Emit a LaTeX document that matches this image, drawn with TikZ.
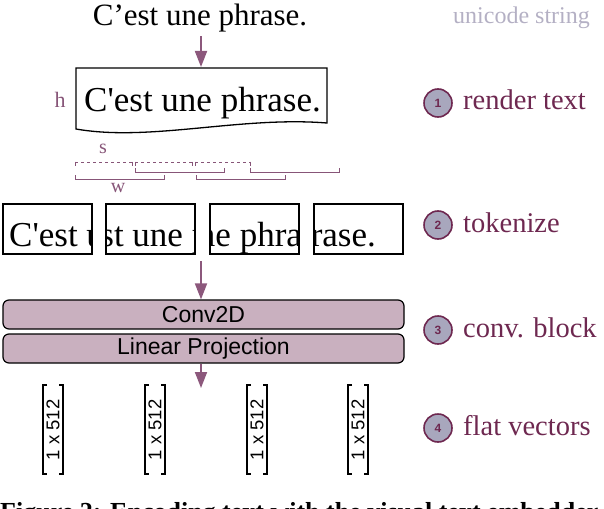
\documentclass[tikz,border=0pt]{standalone}
\usepackage{fontspec}
\setmainfont{Liberation Serif}
\setsansfont{Liberation Sans}
\usetikzlibrary{arrows.meta}
\definecolor{arrowc}{RGB}{140,88,124}
\definecolor{brkc}{RGB}{135,85,120}
\definecolor{labc}{RGB}{110,40,80}
\definecolor{circfill}{RGB}{168,167,189}
\definecolor{convfill}{RGB}{201,176,191}
\definecolor{greyt}{RGB}{180,176,196}
\begin{document}
\begin{tikzpicture}[x=1pt,y=-1pt,
  flow/.style={arrowc, line width=1.8pt, -{Triangle[width=12pt,length=16pt]}},
  brkline/.style={brkc, line width=0.9pt},
  tokfont/.style={font=\fontsize{35}{35}\selectfont},
  convbox/.style={draw, fill=convfill, rounded corners=6pt, line width=1.2pt, inner sep=0,
    minimum width=401pt, minimum height=29pt, font=\sffamily\fontsize{23}{23}\selectfont},
  stepcirc/.style={circle, draw=labc, fill=circfill, line width=1.6pt, minimum size=28pt,
    inner sep=0, text=labc, font=\sffamily\bfseries\fontsize{12}{12}\selectfont},
  steplabel/.style={anchor=base west, inner sep=0, text=labc, font=\fontsize{28.5}{28.5}\selectfont},
  vecfont/.style={rotate=90, inner sep=0, font=\sffamily\fontsize{18.5}{18.5}\selectfont}]
\useasboundingbox (0,0) rectangle (604,508);
\clip (0,0) rectangle (604,508);

% top unicode string
\node[anchor=base, font=\fontsize{31}{31}\selectfont] (top) at (200,26) {C’est une phrase.};
\node[anchor=base west, inner sep=0, text=greyt, font=\fontsize{24}{24}\selectfont] (uni) at (453,24) {unicode string};

% rendered text
\coordinate (rtop) at (201,67);
\draw[flow] (top.south -| rtop) -- (rtop);
\draw[line width=1.3pt] (76,68) -- (327,68) -- (327,123) .. controls (240,116) and (150,142) .. (76,129) -- cycle;
\node[anchor=base west, inner sep=0, tokfont] (rtext) at (84,111) {C\textquotesingle est une phrase.};
\node[text=brkc, font=\fontsize{22}{22}\selectfont] (h) at (60,100) {h};

% stride / window brackets
\foreach \a/\b in {75/132,135/192,195/250} {
  \draw[brkline, dash pattern=on 3pt off 3pt] (\a,162) -- (\b,162);
  \draw[brkline] (\a,161.5) -- (\a,166) (\b,161.5) -- (\b,166);
}
\foreach \a/\b/\y in {135/224/172, 250/339/172, 75/164/179, 196/285/179} {
  \draw[brkline] (\a,\y-4) -- (\a,\y) -- (\b,\y) -- (\b,\y-4);
}
\node[text=brkc, font=\fontsize{20}{20}\selectfont] (s) at (103,149) {s};
\node[text=brkc, font=\fontsize{20}{20}\selectfont] (w) at (118,188) {w};

% tokens
\foreach \bx/\ws [count=\i] in {2/-7,105/50,209/106,313/174} {
  \pgfmathsetmacro\tx{\bx-(\ws)}
  \begin{scope}
    \clip (\bx,203) rectangle ++(89,50);
    \node[anchor=base west, inner sep=0, tokfont] (tt\i) at (\tx,246) {C\textquotesingle est une phrase.};
  \end{scope}
  \node[draw, line width=1.6pt, minimum width=89pt, minimum height=50pt, anchor=north west, inner sep=0] (tok\i) at (\bx,203) {};
}

% conv block
\node[convbox] (conv) at (203.5,314.5) {Conv2D};
\node[convbox] (lin) at (203.5,348.5) {Linear Projection};
\coordinate (a2s) at (201,261);
\draw[flow] (a2s) -- (conv.north -| a2s);
\coordinate (a3e) at (201,388);
\draw[flow] (lin.south -| a3e) -- (a3e);

% flat vectors
\foreach \cx [count=\i] in {53,155,257,358} {
  \node[vecfont] (v\i) at (\cx,430) {1 x 512};
  \draw[line width=1.4pt] (\cx-6,385) -- (\cx-10,385) -- (\cx-10,474) -- (\cx-6,474);
  \draw[line width=1.4pt] (\cx+6,385) -- (\cx+10,385) -- (\cx+10,474) -- (\cx+6,474);
}

% step labels
\foreach \y/\n/\t in {103/1/render text, 225/2/tokenize, 330/3/conv. block, 428/4/flat vectors} {
  \node[stepcirc] (c\n) at (438,\y) {\n};
  \node[steplabel] (l\n) at (463,\y+7) {\t};
}

% caption (cut off at the bottom edge)
\node[anchor=base west, inner sep=0, font=\bfseries\fontsize{26}{26}\selectfont] (cap) at (0,520) {Figure 2: Encoding text with the visual text embedder.};
\end{tikzpicture}
\end{document}
